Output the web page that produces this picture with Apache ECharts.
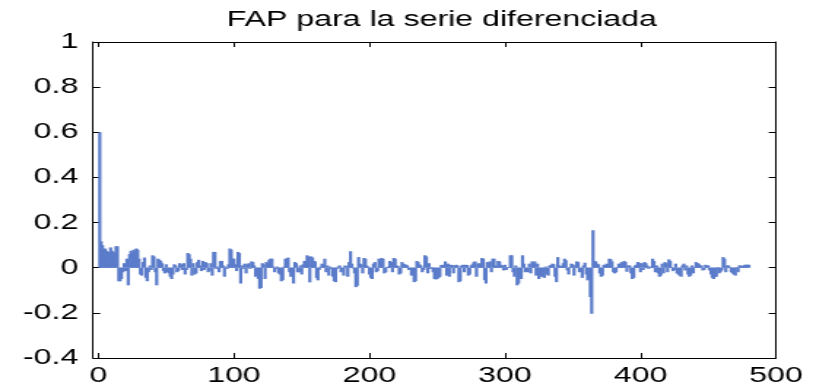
<!DOCTYPE html>
<html>
<head>
<meta charset="utf-8">
<script src="https://cdn.jsdelivr.net/npm/echarts@6/dist/echarts.min.js"></script>
<style>
html,body{margin:0;padding:0;background:#fff;overflow:hidden}
#wrap{width:816px;height:390px;overflow:hidden;background:#fff}
#c{width:559px;height:390px;transform:scaleX(1.4597);transform-origin:0 0}
</style>
</head>
<body>
<div id="wrap"><div id="c"></div></div>
<script>
const titleText = "FAP para la serie diferenciada";
const xTicks = [0, 100, 200, 300, 400, 500];
const yTicks = [-0.4, -0.2, 0, 0.2, 0.4, 0.6, 0.8, 1];
const pacf = [
 0.60, 0.117, 0.10, 0.08, 0.085, 0.075, 0.07, 0.065, 0.09, 0.075,
 0.07, 0.065, 0.095, 0.095, -0.06, -0.06, -0.05, -0.02, 0.02, -0.015,
 0.04, -0.078, 0.06, 0.075, 0.065, 0.08, 0.075, 0.085, 0.08, 0.04,
 -0.03, -0.035, 0.025, 0.045, -0.045, -0.06, -0.02, 0.01, -0.01, 0.055,
 0.05, -0.02, -0.078, 0.04, 0.035, 0.03, 0.02, -0.015, -0.025, 0.015,
 -0.02, -0.025, -0.04, -0.05, -0.03, 0.015, 0.01, -0.02, -0.015, 0.02,
 0.015, -0.01, 0.02, -0.03, -0.01, 0.065, 0.06, 0.04, -0.035, 0.02,
 -0.03, -0.025, 0.025, 0.035, 0.01, -0.015, 0.03, -0.01, 0.025, 0.02,
 -0.02, -0.015, 0.02, -0.035, 0.07, 0.07, -0.005, 0.005, -0.02, 0.03,
 0.03, 0.01, -0.04, 0.005, -0.005, 0.015, 0.085, 0.08, 0.04, 0.04,
 0.015, -0.015, 0.07, 0.065, -0.07, 0.01, -0.005, 0.018, -0.025, 0.015,
 0.02, -0.005, 0.028, 0.025, 0.01, -0.04, -0.035, -0.05, -0.093, -0.09,
 0.02, 0.015, -0.05, 0.025, 0.02, 0.035, 0.04, 0.04, 0.005, -0.02,
 -0.005, 0.005, -0.025, -0.03, -0.06, -0.055, 0.005, 0.04, 0.04, 0.045,
 -0.02, -0.04, -0.035, -0.07, 0.025, 0.02, -0.02, -0.02, 0.01, -0.03,
 0.015, 0.03, 0.03, 0.055, 0.05, -0.065, 0.05, 0.045, 0.03, 0.028,
 -0.045, -0.056, -0.01, 0.005, 0.018, 0.015, 0.04, -0.02, 0.01, -0.035,
 0.005, -0.005, -0.04, -0.06, -0.064, -0.005, 0.005, 0.01, -0.02, -0.005,
 -0.035, 0.01, 0.008, -0.04, 0.025, 0.073, 0.018, -0.003, -0.025, -0.086,
 -0.08, 0.047, 0.018, 0.015, -0.025, 0.043, 0.04, 0.01, 0.005, -0.03,
 -0.045, -0.05, 0.018, 0.025, -0.02, -0.015, 0.04, 0.038, 0.043, 0.04,
 -0.025, -0.02, 0.003, 0.005, 0.03, 0.025, -0.02, 0.043, 0.04, 0.01,
 0.008, -0.03, -0.025, 0.025, 0.018, 0.015, 0.013, 0.01, -0.01, -0.005,
 -0.035, -0.03, -0.064, -0.06, 0.03, 0.025, 0.015, 0.01, -0.02, -0.01,
 0.055, 0.05, -0.025, 0.02, -0.005, 0.003, -0.02, -0.05, -0.052, -0.05,
 -0.045, -0.04, 0.012, 0.013, 0.01, 0.028, -0.035, 0.018, -0.04, 0.013,
 0.012, -0.025, 0.01, 0.013, 0.01, -0.064, -0.06, 0.01, 0.013, -0.02,
 0.013, 0.012, -0.035, -0.03, 0.01, 0.015, 0.025, 0.028, -0.04, 0.018,
 0.02, 0.015, 0.043, 0.04, -0.055, -0.07, 0.025, 0.01, 0.028, -0.02,
 0.04, 0.04, 0.01, 0.005, 0.03, 0.028, 0.013, 0.01, -0.012, 0.013,
 -0.01, 0.003, 0.003, 0.055, 0.055, -0.02, -0.04, 0.01, -0.078, -0.07,
 -0.05, -0.05, 0.055, 0.018, -0.02, -0.015, -0.02, 0.018, -0.025, 0.028,
 0.02, 0.028, -0.035, 0.018, -0.05, -0.04, -0.03, -0.04, -0.045, 0.005,
 -0.03, -0.035, 0.01, 0.012, 0.018, 0.015, -0.04, -0.064, 0.047, 0.01,
 0.008, 0.007, 0.02, 0.04, 0.033, -0.012, -0.03, 0.003, 0.018, 0.015,
 -0.035, 0.01, 0.028, 0.025, -0.02, -0.015, -0.045, 0.01, 0.022, -0.03,
 -0.056, -0.05, -0.13, -0.204, 0.166, 0.03, 0.028, 0.018, 0.015, -0.025,
 -0.04, -0.035, 0.013, 0.01, 0.018, 0.015, 0.04, 0.038, 0.028, -0.02,
 -0.025, -0.02, 0.003, 0.018, 0.015, 0.025, 0.02, 0.03, 0.025, -0.018,
 0.01, 0.01, -0.025, -0.05, -0.045, 0.01, 0.013, 0.025, 0.022, -0.02,
 0.02, -0.01, 0.025, 0.02, 0.01, -0.005, 0.005, 0.003, 0.04, 0.03,
 -0.02, 0.01, -0.025, -0.04, -0.035, 0.018, -0.025, 0.025, 0.02, -0.02,
 0.037, 0.03, 0.003, -0.015, -0.01, 0.018, -0.025, -0.03, -0.035, -0.04,
 0.01, 0.018, -0.012, 0.01, -0.03, -0.04, -0.035, 0.01, -0.025, 0.003,
 0.025, 0.02, 0.018, 0.01, 0.01, -0.012, -0.01, 0.013, 0.01, 0.01,
 -0.012, -0.03, -0.045, -0.05, -0.04, -0.04, 0.003, -0.025, -0.02, -0.012,
 0.047, 0.04, -0.02, 0.01, 0.01, 0.003, -0.02, -0.025, -0.03, -0.035,
 0.003, -0.02, 0.01, 0.01, 0.008, 0.008, 0.013, 0.013, 0.013, 0.013
];
const lags = pacf.map((_, i) => i + 1);

// The reference is a horizontally stretched figure: the chart is drawn at a
// narrower width and stretched by CSS (scaleX 1.4597) to 816px.
const chart = echarts.init(document.getElementById('c'));
const font = 'Liberation Sans';
const axisLine = { show: true, onZero: false, lineStyle: { color: '#000', width: 1 } };
const tick = { show: true, inside: true, length: 5, lineStyle: { color: '#000' } };
const xCommon = { type: 'value', min: -4, max: 500, splitLine: { show: false } };
const yCommon = { type: 'value', min: -0.4, max: 1, interval: 0.2, splitLine: { show: false } };
chart.setOption({
  animation: false,
  backgroundColor: '#fff',
  title: {
    text: titleText, left: 297.7, top: 4, textAlign: 'center',
    textStyle: { fontFamily: font, fontSize: 22, fontWeight: 'normal', color: '#000' }
  },
  grid: { left: 63.7, right: 27.4, top: 42, bottom: 32, containLabel: false },
  xAxis: [
    Object.assign({}, xCommon, {
      position: 'bottom', axisLine,
      axisTick: Object.assign({ customValues: xTicks }, tick),
      axisLabel: { show: true, customValues: xTicks, margin: 7, color: '#000', fontFamily: font, fontSize: 22 }
    }),
    Object.assign({}, xCommon, {
      position: 'top', axisLine,
      axisTick: Object.assign({ customValues: xTicks }, tick),
      axisLabel: { show: false }
    })
  ],
  yAxis: [
    Object.assign({}, yCommon, {
      position: 'left', axisLine,
      axisTick: tick,
      axisLabel: { show: true, margin: 10, color: '#000', fontFamily: font, fontSize: 22,
        formatter: v => String(Math.round(v * 10) / 10) }
    }),
    Object.assign({}, yCommon, {
      position: 'right', axisLine,
      axisTick: tick,
      axisLabel: { show: false }
    })
  ],
  series: [{
    type: 'bar',
    xAxisIndex: 0, yAxisIndex: 0,
    data: lags.map((l, i) => [l, pacf[i]]),
    barWidth: 2.2,
    large: false,
    itemStyle: { color: '#5b7cca', borderWidth: 0 },
    emphasis: { disabled: true }
  }]
});
</script>
</body>
</html>
